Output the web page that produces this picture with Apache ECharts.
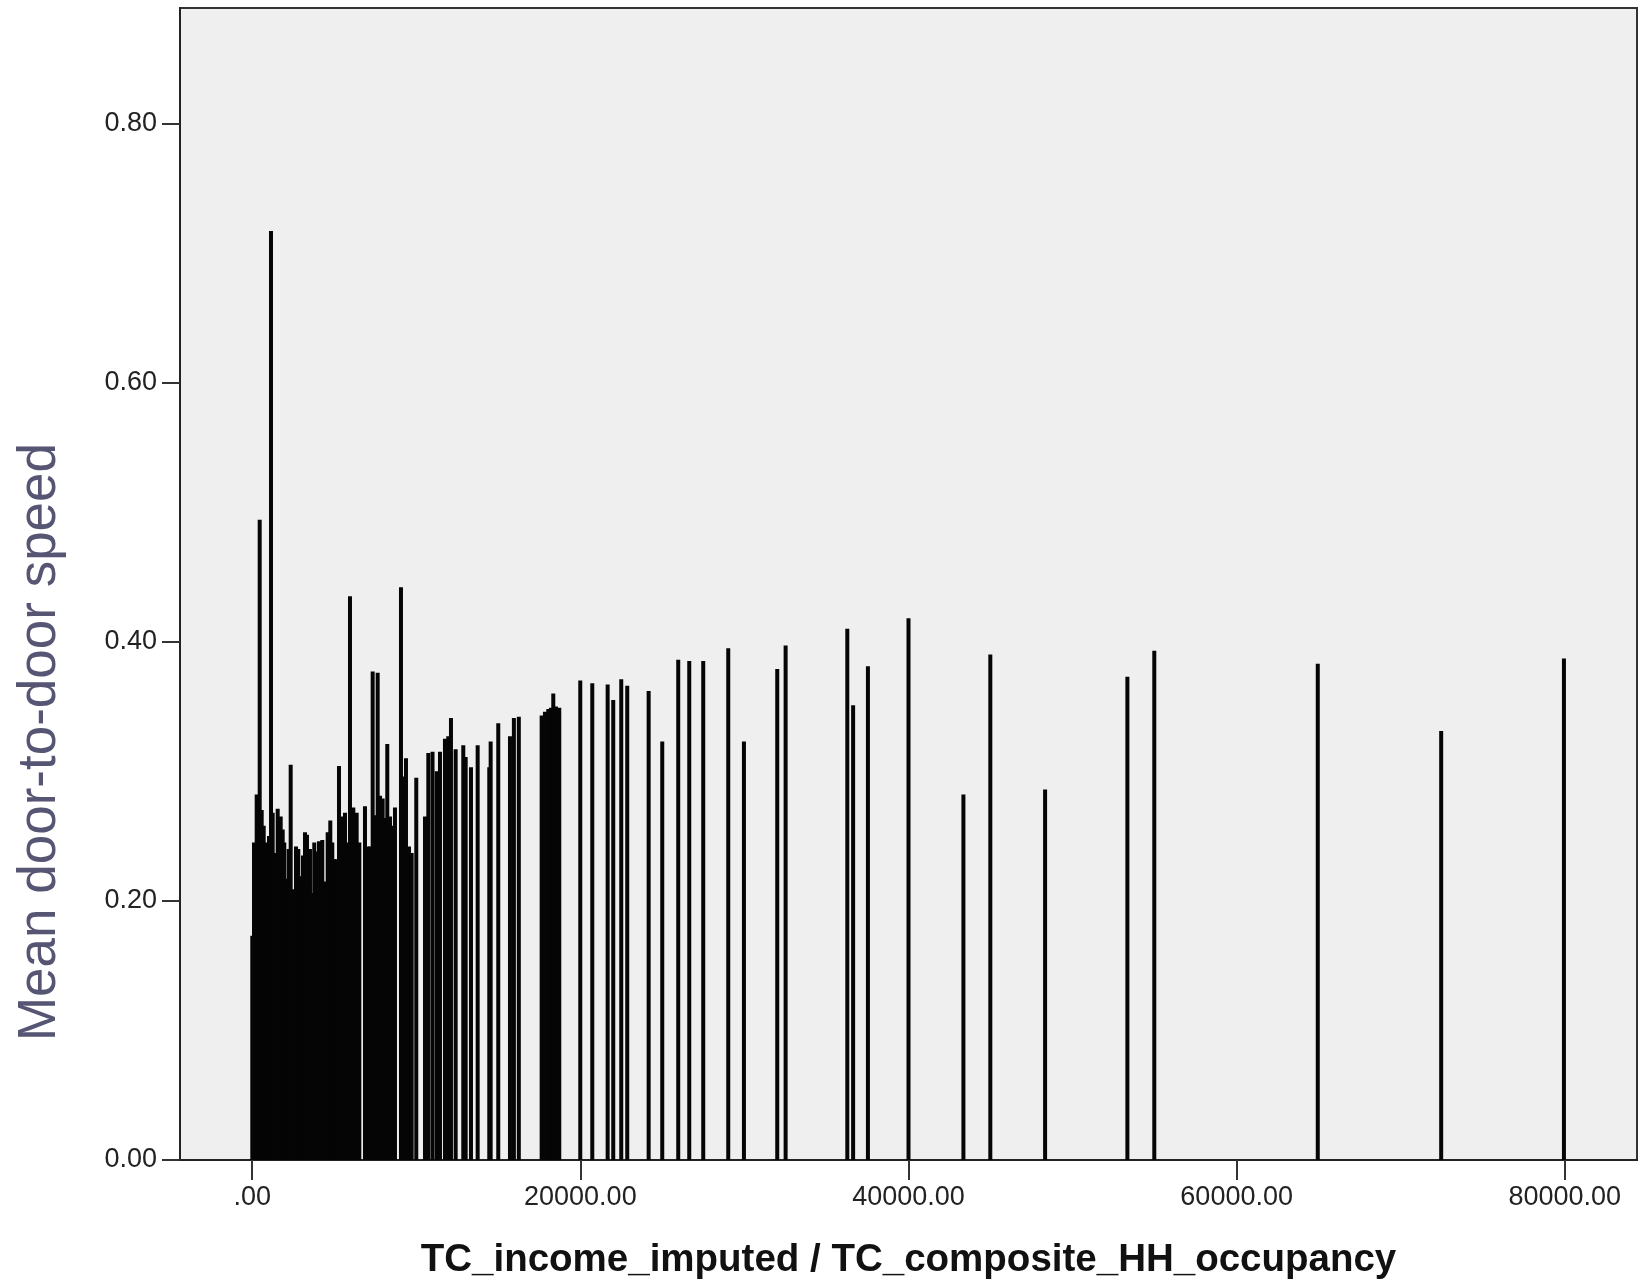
<!DOCTYPE html>
<html>
<head>
<meta charset="utf-8">
<script src="https://cdn.jsdelivr.net/npm/echarts@6/dist/echarts.min.js"></script>
<style>
  html, body { margin: 0; padding: 0; background: #fff; }
  #chart { width: 1647px; height: 1285px; }
</style>
</head>
<body>
<div id="chart"></div>
<script>
// income per occupant (x) and mean door-to-door speed (y)
const incomeRatio = [
  6, 110, 274, 372, 457, 579, 701, 823, 920, 1024,
  1146, 1249, 1347, 1554, 1737, 1859, 1956, 2102, 2224, 2346,
  2505, 2669, 2809, 2974, 3096, 3218, 3339, 3522, 3687, 3784,
  3931, 4071, 4272, 4436, 4601, 4760, 4881, 5003, 5125, 5290,
  5454, 5655, 5818, 5960, 6163, 6368, 6529, 6874, 7038, 7179,
  7343, 7483, 7648, 7788, 7952, 8092, 8233, 8398, 8538, 8702,
  9068, 9208, 9373, 9555, 9720, 10000, 10531, 10735, 10990, 11243,
  11445, 11749, 11950, 12115, 12400, 12865, 13011, 13334, 13742, 14449,
  14534, 14997, 15711, 15950, 16250, 17642, 17843, 18045, 18209, 18350,
  18514, 18715, 19995, 20727, 21664, 22005, 22493, 22858, 24163, 24992,
  25966, 26637, 27490, 29014, 29970, 32000, 32511, 36270, 36625, 37527,
  40000, 43347, 44986, 48325, 53340, 54980, 64944, 72465, 79947
]
const meanSpeed = [
  0.173, 0.245, 0.282, 0.275, 0.494, 0.270, 0.258, 0.245, 0.242, 0.250,
  0.717, 0.268, 0.237, 0.271, 0.265, 0.255, 0.245, 0.217, 0.240, 0.305,
  0.209, 0.242, 0.240, 0.219, 0.235, 0.253, 0.251, 0.240, 0.206, 0.245,
  0.238, 0.246, 0.247, 0.215, 0.253, 0.262, 0.245, 0.232, 0.232, 0.304,
  0.265, 0.268, 0.245, 0.435, 0.272, 0.268, 0.245, 0.273, 0.242, 0.242,
  0.377, 0.266, 0.376, 0.281, 0.279, 0.264, 0.321, 0.265, 0.258, 0.272,
  0.442, 0.296, 0.310, 0.242, 0.237, 0.295, 0.265, 0.314, 0.315, 0.300,
  0.315, 0.325, 0.327, 0.341, 0.317, 0.320, 0.311, 0.303, 0.320, 0.303,
  0.323, 0.337, 0.327, 0.341, 0.342, 0.343, 0.346, 0.348, 0.349, 0.360,
  0.350, 0.349, 0.370, 0.368, 0.367, 0.355, 0.371, 0.366, 0.362, 0.323,
  0.386, 0.385, 0.385, 0.395, 0.323, 0.379, 0.397, 0.410, 0.351, 0.381,
  0.418, 0.282, 0.390, 0.286, 0.373, 0.393, 0.383, 0.331, 0.387
]
const xTicks = [0, 20000, 40000, 60000, 80000]
const yTicks = [0, 0.2, 0.4, 0.6, 0.8]

const chart = echarts.init(document.getElementById('chart'))

const tickFont = {
  fontFamily: 'Liberation Sans, Arial, sans-serif',
  fontSize: 27,
  color: '#222'
}

chart.setOption({
  animation: false,
  backgroundColor: '#fff',
  grid: {
    left: 180, right: 10, top: 8, bottom: 124,
    show: true,
    backgroundColor: '#efefef',
    borderColor: '#333',
    borderWidth: 2
  },
  xAxis: {
    type: 'value',
    min: -4400,
    max: 84400,
    splitLine: { show: false },
    axisLine: { onZero: false, lineStyle: { color: '#222', width: 2 } },
    axisTick: { customValues: xTicks, length: 20, lineStyle: { color: '#333', width: 2 } },
    axisLabel: Object.assign({
      customValues: xTicks,
      margin: 24,
      formatter: v => v === 0 ? '.00' : v.toFixed(2)
    }, tickFont),
    name: 'TC_income_imputed / TC_composite_HH_occupancy',
    nameLocation: 'middle',
    nameGap: 81,
    nameTextStyle: {
      fontFamily: 'Liberation Sans, Arial, sans-serif',
      fontWeight: 'bold',
      fontSize: 38.5,
      color: '#111'
    }
  },
  yAxis: {
    type: 'value',
    min: 0,
    max: 0.889,
    splitLine: { show: false },
    axisLine: { onZero: false, lineStyle: { color: '#222', width: 2 } },
    axisTick: { customValues: yTicks, length: 18, lineStyle: { color: '#333', width: 2 } },
    axisLabel: Object.assign({
      customValues: yTicks,
      margin: 23,
      formatter: v => v.toFixed(2)
    }, tickFont)
  },
  graphic: [{
    type: 'text',
    x: 40,
    y: 742,
    rotation: Math.PI / 2,
    style: {
      text: 'Mean door-to-door speed',
      fontFamily: 'Liberation Sans, Arial, sans-serif',
      fontSize: 53,
      fill: '#565674',
      align: 'center',
      verticalAlign: 'middle'
    }
  }],
  series: [{
    type: 'bar',
    barWidth: 4,
    itemStyle: { color: '#050505' },
    data: incomeRatio.map((x, i) => [x, meanSpeed[i]])
  }]
})
</script>
</body>
</html>
